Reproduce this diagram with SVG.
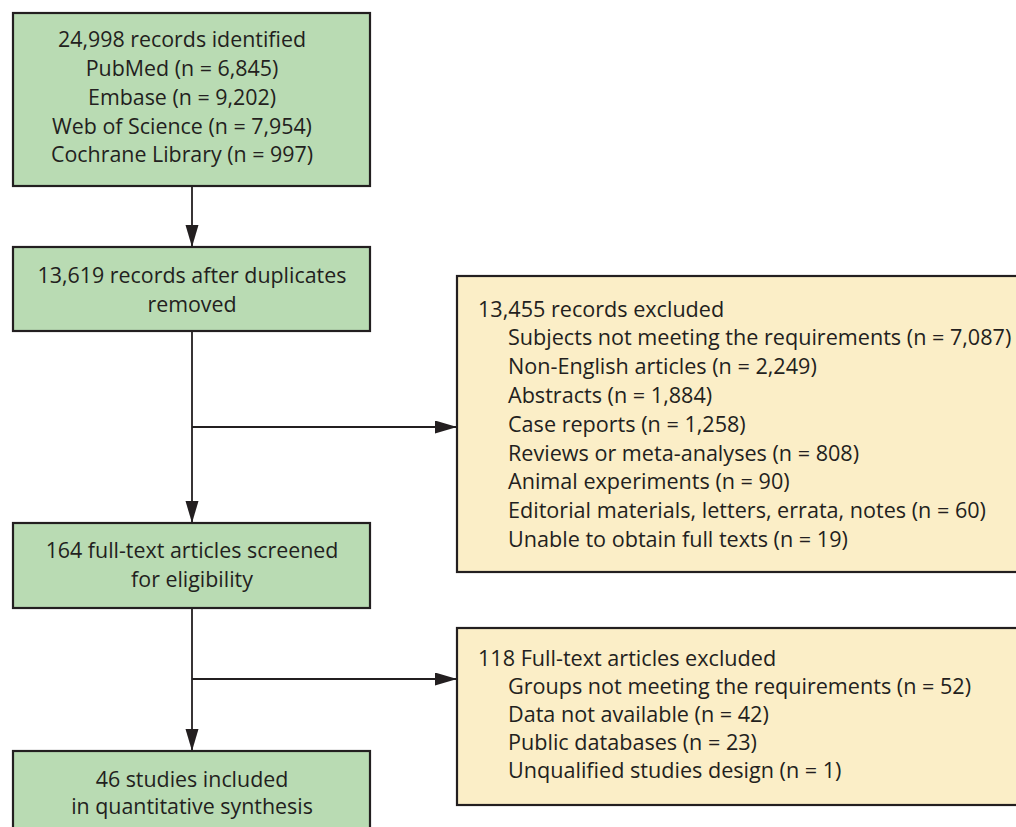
<svg xmlns="http://www.w3.org/2000/svg" width="1016" height="827" viewBox="0 0 1016 827">
<defs>
<style>
.g{fill:#b9dbb3;stroke:#231f20;stroke-width:2.2}
.y{fill:#fbeec7;stroke:#231f20;stroke-width:2.2}
text{font-family:"Open Sans","Noto Sans","Liberation Sans",sans-serif;font-size:21.4px;fill:#231f20}
.r{font-size:21.6px}
.c{text-anchor:middle}
.ln{stroke:#231f20;stroke-width:1.8;fill:none}
</style>
<marker id="ah" markerUnits="userSpaceOnUse" markerWidth="24" markerHeight="14" refX="22" refY="6.5" orient="auto">
<path d="M0,0 L22,6.5 L0,13 Z" fill="#231f20"/>
</marker>
</defs>
<rect width="1016" height="827" fill="#ffffff"/>
<g id="connectors">
<line class="ln" x1="192" y1="186" x2="192" y2="247" marker-end="url(#ah)"/>
<line class="ln" x1="192" y1="331" x2="192" y2="523" marker-end="url(#ah)"/>
<line class="ln" x1="192" y1="427" x2="457" y2="427" marker-end="url(#ah)"/>
<line class="ln" x1="192" y1="608" x2="192" y2="751" marker-end="url(#ah)"/>
<line class="ln" x1="192" y1="679" x2="457" y2="679" marker-end="url(#ah)"/>
</g>
<g id="identified">
<rect class="g" x="13" y="13" width="357" height="173"/>
<text class="c" x="182" y="47">24,998 records identified</text>
<text class="c" x="182" y="76">PubMed (n = 6,845)</text>
<text class="c" x="182" y="105">Embase (n = 9,202)</text>
<text class="c" x="182" y="134">Web of Science (n = 7,954)</text>
<text class="c" x="182" y="162">Cochrane Library (n = 997)</text>
</g>
<g id="duplicates">
<rect class="g" x="13" y="247" width="357" height="84"/>
<text class="c" x="192" y="283">13,619 records after duplicates</text>
<text class="c" x="192" y="312">removed</text>
</g>
<g id="excluded1">
<rect class="y" x="457" y="276" width="570" height="296"/>
<text class="r" x="478" y="317">13,455 records excluded</text>
<text class="r" x="508" y="345">Subjects not meeting the requirements (n = 7,087)</text>
<text class="r" x="508" y="374">Non-English articles (n = 2,249)</text>
<text class="r" x="508" y="403">Abstracts (n = 1,884)</text>
<text class="r" x="508" y="432">Case reports (n = 1,258)</text>
<text class="r" x="508" y="461">Reviews or meta-analyses (n = 808)</text>
<text class="r" x="508" y="489">Animal experiments (n = 90)</text>
<text class="r" x="508" y="518">Editorial materials, letters, errata, notes (n = 60)</text>
<text class="r" x="508" y="547">Unable to obtain full texts (n = 19)</text>
</g>
<g id="screened">
<rect class="g" x="13" y="523" width="357" height="85"/>
<text class="c" x="192" y="558">164 full-text articles screened</text>
<text class="c" x="192" y="587">for eligibility</text>
</g>
<g id="excluded2">
<rect class="y" x="457" y="628" width="570" height="177"/>
<text class="r" x="478" y="666">118 Full-text articles excluded</text>
<text class="r" x="508" y="694">Groups not meeting the requirements (n = 52)</text>
<text class="r" x="508" y="722">Data not available (n = 42)</text>
<text class="r" x="508" y="750">Public databases (n = 23)</text>
<text class="r" x="508" y="778">Unqualified studies design (n = 1)</text>
</g>
<g id="included">
<rect class="g" x="13" y="751" width="357" height="90"/>
<text class="c" x="192" y="787">46 studies included</text>
<text class="c" x="192" y="814">in quantitative synthesis</text>
</g>
</svg>
